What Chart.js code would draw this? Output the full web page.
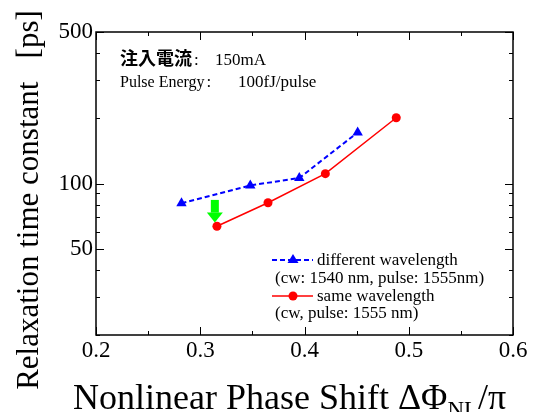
<!DOCTYPE html>
<html>
<head>
	<meta charset="UTF-8">
	<title>Relaxation time constant</title>
	<script src="https://cdn.jsdelivr.net/npm/chart.js@4.4.1/dist/chart.umd.min.js"></script>
	<style>
		body { margin: 0; background: #fff; }
		#wrap { width: 537px; height: 412px; }
	</style>
</head>
<body>
	<div id="wrap"><canvas id="chart_relax" width="537" height="412"></canvas></div>
	<script>
		// ticks
		var xTicks = [0.2, 0.3, 0.4, 0.5, 0.6];
		var xMinorTicks = [0.25, 0.35, 0.45, 0.55];
		var yTicks = [50, 100, 500];
		var yMinorTicks = [20, 30, 40, 60, 70, 80, 90, 200, 300, 400];

		// different wavelength (cw: 1540 nm, pulse: 1555nm)
		var diffX = [0.282, 0.348, 0.395, 0.451];
		var diffY = [81, 98, 106, 172];

		// same wavelength (cw, pulse: 1555 nm)
		var sameX = [0.316, 0.365, 0.420, 0.488];
		var sameY = [63.5, 81.5, 111, 201];

		// green arrow
		var arrowX = 0.314;
		var arrowFrom = 84;
		var arrowTo = 66;

		var serif = '"Liberation Serif", "Times New Roman", serif';

		function toPoints(xs, ys) {
			return xs.map(function (x, i) { return { x: x, y: ys[i] }; });
		}

		var decor = {
			id: 'decor',
			beforeDatasetsDraw: function (chart) {
				var ctx = chart.ctx;
				var a = chart.chartArea;
				var xs = chart.scales.x, ys = chart.scales.y;
				ctx.save();
				ctx.strokeStyle = '#000';
				ctx.lineWidth = 1.5;
				ctx.strokeRect(a.left, a.top, a.right - a.left, a.bottom - a.top);
				ctx.lineWidth = 1;
				ctx.beginPath();
				function xt(v, len) {
					var p = Math.round(xs.getPixelForValue(v)) + 0.5;
					ctx.moveTo(p, a.bottom); ctx.lineTo(p, a.bottom - len);
					ctx.moveTo(p, a.top); ctx.lineTo(p, a.top + len);
				}
				function yt(v, len) {
					var p = Math.round(ys.getPixelForValue(v)) + 0.5;
					ctx.moveTo(a.left, p); ctx.lineTo(a.left + len, p);
					ctx.moveTo(a.right, p); ctx.lineTo(a.right - len, p);
				}
				xTicks.forEach(function (v) { xt(v, 8); });
				xMinorTicks.forEach(function (v) { xt(v, 4); });
				yTicks.forEach(function (v) { yt(v, 8); });
				yMinorTicks.forEach(function (v) { yt(v, 4); });
				ctx.stroke();
				ctx.restore();
			},
			afterDraw: function (chart) {
				var ctx = chart.ctx;
				var a = chart.chartArea;
				var xs = chart.scales.x, ys = chart.scales.y;
				ctx.save();
				ctx.fillStyle = '#000';

				// y title
				ctx.save();
				ctx.translate(38, 200);
				ctx.rotate(-Math.PI / 2);
				ctx.font = '31px ' + serif;
				ctx.textAlign = 'center';
				ctx.textBaseline = 'alphabetic';
				ctx.fillText('Relaxation time constant   [ps]', 0, 0);
				ctx.restore();

				// x title with subscript
				ctx.textAlign = 'left';
				ctx.textBaseline = 'alphabetic';
				var tx = 73, ty = 409;
				ctx.font = '36px ' + serif;
				var s1 = 'Nonlinear Phase Shift \u0394\u03A6';
				ctx.fillText(s1, tx, ty);
				tx += ctx.measureText(s1).width;
				ctx.font = '23px ' + serif;
				ctx.fillText('NL', tx, ty + 8);
				tx += ctx.measureText('NL').width;
				ctx.font = '36px ' + serif;
				ctx.fillText('/\u03C0', tx, ty);

				// annotation
				ctx.font = 'bold 18px "Noto Sans CJK JP"';
				ctx.fillText('注入電流', a.left + 24, a.top + 33);
				ctx.font = '17px ' + serif;
				ctx.fillText(':', a.left + 98, a.top + 33);
				ctx.fillText('150mA', a.left + 119, a.top + 33);
				ctx.font = '16px ' + serif;
				ctx.fillText('Pulse Energy', a.left + 24, a.top + 55);
				var pw = ctx.measureText('Pulse Energy').width;
				ctx.font = '17px ' + serif;
				ctx.fillText(':', a.left + 26 + pw, a.top + 55);
				ctx.fillText('100fJ/pulse', a.left + 142, a.top + 55);

				// legend
				var lx = a.left + 176;
				ctx.font = '17px ' + serif;
				ctx.fillText('different wavelength', lx + 45, a.top + 233);
				ctx.fillText('(cw: 1540 nm, pulse: 1555nm)', lx + 3, a.top + 251);
				ctx.fillText('same wavelength', lx + 45, a.top + 269);
				ctx.fillText('(cw, pulse: 1555 nm)', lx + 3, a.top + 286);

				ctx.lineWidth = 2;
				ctx.strokeStyle = '#0000ff';
				ctx.setLineDash([5, 3]);
				ctx.beginPath();
				ctx.moveTo(lx, a.top + 228); ctx.lineTo(lx + 41, a.top + 228);
				ctx.stroke();
				ctx.setLineDash([]);
				ctx.fillStyle = '#0000ff';
				ctx.beginPath();
				ctx.moveTo(lx + 21, a.top + 222);
				ctx.lineTo(lx + 26.5, a.top + 231);
				ctx.lineTo(lx + 15.5, a.top + 231);
				ctx.closePath();
				ctx.fill();

				ctx.lineWidth = 1.5;
				ctx.strokeStyle = '#ff0000';
				ctx.fillStyle = '#ff0000';
				ctx.beginPath();
				ctx.moveTo(lx, a.top + 264); ctx.lineTo(lx + 41, a.top + 264);
				ctx.stroke();
				ctx.beginPath();
				ctx.arc(lx + 21, a.top + 264, 4.5, 0, Math.PI * 2);
				ctx.fill();

				// green arrow
				var ax = xs.getPixelForValue(arrowX);
				var y0 = ys.getPixelForValue(arrowFrom);
				var y1 = ys.getPixelForValue(arrowTo);
				ctx.fillStyle = '#00ff00';
				ctx.fillRect(ax - 4, y0, 8, y1 - y0 - 10);
				ctx.beginPath();
				ctx.moveTo(ax - 8, y1 - 10);
				ctx.lineTo(ax + 8, y1 - 10);
				ctx.lineTo(ax, y1);
				ctx.closePath();
				ctx.fill();

				ctx.restore();
			}
		};

		var ctx = document.getElementById('chart_relax').getContext('2d');
		var myChart = new Chart(ctx, {
			type: 'scatter',
			data: {
				datasets: [{
					label: 'different wavelength',
					data: toPoints(diffX, diffY),
					showLine: true,
					borderColor: '#0000ff',
					backgroundColor: '#0000ff',
					borderWidth: 2,
					borderDash: [5, 3],
					pointStyle: 'triangle',
					pointRadius: 6,
					pointBorderWidth: 0
				}, {
					label: 'same wavelength',
					data: toPoints(sameX, sameY),
					showLine: true,
					borderColor: '#ff0000',
					backgroundColor: '#ff0000',
					borderWidth: 1.5,
					pointStyle: 'circle',
					pointRadius: 4.5,
					pointBorderWidth: 0
				}]
			},
			options: {
				responsive: false,
				animation: false,
				layout: { padding: { top: 32, right: 24, left: 0, bottom: 0 } },
				plugins: {
					legend: { display: false },
					tooltip: { enabled: false }
				},
				scales: {
					x: {
						type: 'linear',
						min: 0.2,
						max: 0.6,
						grid: { display: false, drawTicks: false },
						border: { display: false },
						afterBuildTicks: function (s) {
							s.ticks = xTicks.map(function (v) { return { value: v }; });
						},
						ticks: {
							padding: 2,
							color: '#000',
							font: { family: serif, size: 23 },
							callback: function (v) { return v.toFixed(1); }
						},
						afterFit: function (s) { s.height = 77; }
					},
					y: {
						type: 'logarithmic',
						min: 20,
						max: 500,
						grid: { display: false, drawTicks: false },
						border: { display: false },
						afterBuildTicks: function (s) {
							s.ticks = yTicks.map(function (v) { return { value: v }; });
						},
						ticks: {
							padding: 3,
							color: '#000',
							font: { family: serif, size: 23 },
							callback: function (v) { return String(v); }
						},
						afterFit: function (s) { s.width = 96; }
					}
				}
			},
			plugins: [decor]
		});
	</script>
</body>
</html>
